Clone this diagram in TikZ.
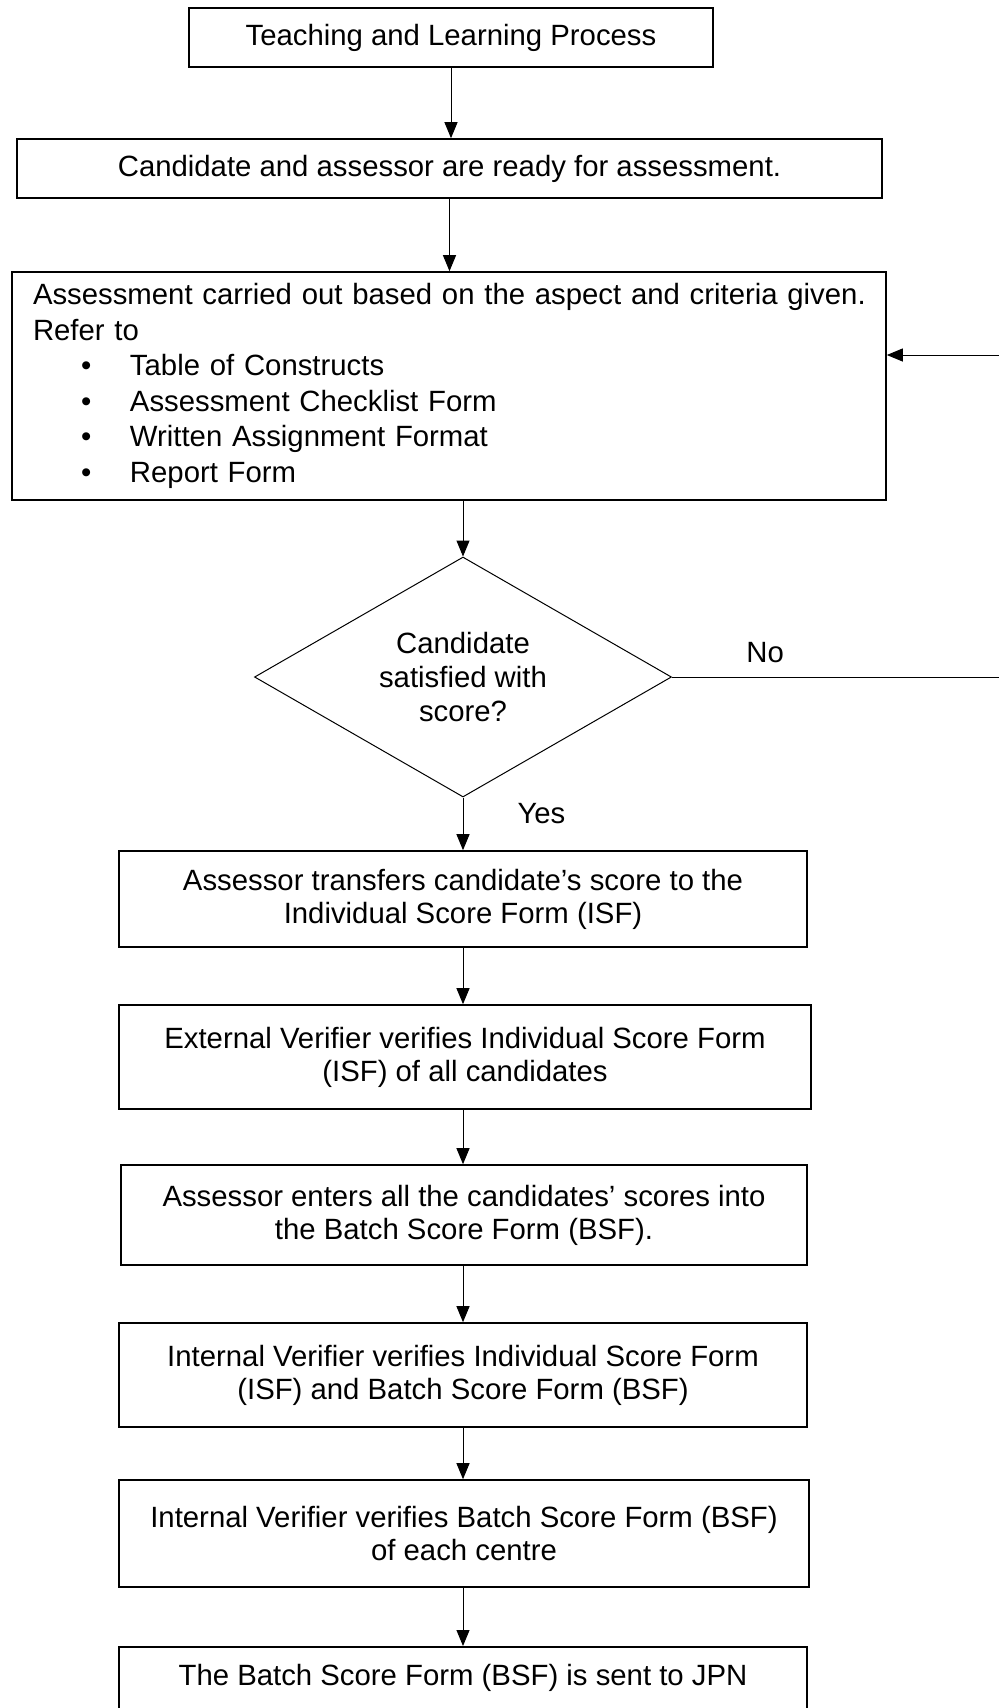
\documentclass[tikz,border=0pt]{standalone}
\usepackage{fontspec}
\setmainfont{Liberation Sans}
\usetikzlibrary{shapes.geometric,arrows.meta}

\tikzset{
  box/.style={draw, line width=0.8pt, align=center, inner sep=0pt,
    font=\fontsize{14.66pt}{16.5pt}\selectfont},
  decision/.style={draw, diamond, aspect=1.74, line width=0.5pt, align=center,
    inner sep=0pt, font=\fontsize{14.66pt}{17pt}\selectfont},
  lbl/.style={inner sep=0pt, font=\fontsize{14.66pt}{16.5pt}\selectfont}
}
\newcommand\listdot{\hspace*{24pt}\makebox[24.5pt][l]{\textbullet}}

\begin{document}
\begin{tikzpicture}[x=0.5pt, y=-0.5pt, line width=0.5pt,
    >={Triangle[length=8pt,width=6.5pt]}]
  % Page
  \useasboundingbox (0,0) rectangle (998,1708);

  % Top boxes
  \node[box, minimum width=262pt, minimum height=29.5pt] (teach) at (451,37.5)
    {Teaching and Learning Process};
  \node[box, minimum width=432.5pt, minimum height=29.5pt] (ready) at (449.5,168.5)
    {Candidate and assessor are ready for assessment.};
  \node[box, align=left, text width=416pt, inner xsep=10.5pt, minimum height=114pt,
    font=\fontsize{14.66pt}{17.8pt}\selectfont] (assess) at (449,386)
    {\mbox{Assessment carried out based on the aspect and criteria given.}\\
     Refer to\\
     \listdot Table of Constructs\\
     \listdot Assessment Checklist Form\\
     \listdot Written Assignment Format\\
     \listdot Report Form};

  % Decision
  \node[decision, minimum width=208.5pt, minimum height=120pt] (dec) at (463,677)
    {Candidate\\satisfied with\\score?};

  % Lower boxes
  \node[box, minimum width=344pt, minimum height=48pt] (isf) at (463,899)
    {Assessor transfers candidate’s score to the\\Individual Score Form (ISF)};
  \node[box, minimum width=346pt, minimum height=52pt] (ext) at (465,1057)
    {External Verifier verifies Individual Score Form\\(ISF) of all candidates};
  \node[box, minimum width=343pt, minimum height=50pt] (bsf) at (464,1215)
    {Assessor enters all the candidates’ scores into\\the Batch Score Form (BSF).};
  \node[box, minimum width=344pt, minimum height=52pt] (ivboth) at (463,1375)
    {Internal Verifier verifies Individual Score Form\\(ISF) and Batch Score Form (BSF)};
  \node[box, minimum width=345pt, minimum height=53.5pt] (ivcentre) at (464,1533.5)
    {Internal Verifier verifies Batch Score Form (BSF)\\of each centre};
  \node[box, anchor=north, minimum width=344pt, text height=19.5pt, text depth=40pt]
    (jpn) at (463,1646) {The Batch Score Form (BSF) is sent to JPN};

  % Arrows
  \draw[->] (teach.south) -- (teach.south |- ready.north);
  \draw[->] (ready.south) -- (ready.south |- assess.north);
  \draw[->] (assess.south -| dec.north) -- (dec.north);
  \draw[->] (dec.south) -- node[lbl, pos=0.3, right=27pt] {Yes} (dec.south |- isf.north);
  \draw[->] (isf.south) -- (isf.south |- ext.north);
  \draw[->] (ext.south -| isf.south) -- (isf.south |- bsf.north);
  \draw[->] (bsf.south -| isf.south) -- (isf.south |- ivboth.north);
  \draw[->] (ivboth.south) -- (ivboth.south |- ivcentre.north);
  \draw[->] (ivcentre.south -| ivboth.south) -- (ivboth.south |- jpn.north);

  % No loop back (runs off the right edge)
  \coordinate (backIn) at (1001,355);
  \draw[->] (dec.east) -- node[lbl, pos=0.283, above=6.75pt] {No} (dec.east -| backIn)
    -- (backIn) -- (backIn -| assess.east);
\end{tikzpicture}
\end{document}
